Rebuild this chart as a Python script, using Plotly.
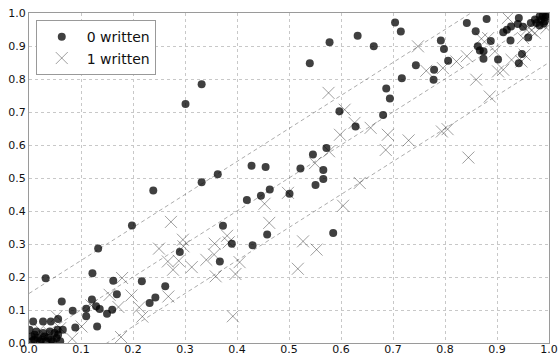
import plotly.graph_objects as go

# ---- data: "0 written" (dots) ----
x0 = [0.301, 0.332,
      0.540, 0.578, 0.632, 0.663, 0.704, 0.715, 0.744, 0.717, 0.687, 0.694, 0.681, 0.597, 0.628, 0.572,
      0.546, 0.522, 0.566, 0.566, 0.551,
      0.792, 0.798, 0.806, 0.779, 0.778, 0.842, 0.880, 0.859, 0.863, 0.867, 0.874, 0.874, 0.888, 0.902,
      0.912, 0.919, 0.927, 0.926, 0.940, 0.942, 0.950, 0.960, 0.948, 0.942, 0.965, 0.973, 0.982, 0.988,
      0.994, 0.982, 0.992, 0.976, 0.995, 0.985, 0.990,
      0.332, 0.363, 0.428, 0.455, 0.501, 0.463, 0.446, 0.419, 0.373, 0.390, 0.430, 0.458, 0.585, 0.367,
      0.290, 0.239, 0.198, 0.133, 0.122, 0.032, 0.262, 0.243, 0.232, 0.217, 0.162, 0.169, 0.160, 0.150,
      0.131, 0.121, 0.129, 0.136, 0.110, 0.110, 0.084, 0.089, 0.063,
      0.008, 0.027, 0.042, 0.056, 0.055, 0.065,
      0.001, 0.005, 0.011, 0.017, 0.024, 0.030, 0.037, 0.043, 0.049, 0.053, 0.005, 0.021, 0.033, 0.046,
      0.014, 0.027, 0.040, 0.056, 0.010, 0.060]
y0 = [0.724, 0.784,
      0.848, 0.911, 0.931, 0.899, 0.971, 0.944, 0.842, 0.802, 0.771, 0.741, 0.691, 0.702, 0.656, 0.591,
      0.571, 0.529, 0.524, 0.497, 0.479,
      0.917, 0.891, 0.855, 0.828, 0.798, 0.970, 0.982, 0.945, 0.899, 0.886, 0.884, 0.861, 0.915, 0.859,
      0.942, 0.949, 0.959, 0.917, 0.967, 0.985, 0.958, 0.926, 0.876, 0.848, 0.970, 0.980, 0.990, 0.992,
      0.988, 0.962, 0.975, 0.970, 0.995, 0.980, 0.968,
      0.487, 0.511, 0.537, 0.533, 0.452, 0.465, 0.446, 0.433, 0.355, 0.301, 0.296, 0.329, 0.333, 0.247,
      0.276, 0.462, 0.356, 0.286, 0.211, 0.196, 0.172, 0.138, 0.121, 0.187, 0.189, 0.148, 0.101, 0.089,
      0.050, 0.132, 0.111, 0.103, 0.104, 0.081, 0.098, 0.047, 0.126,
      0.065, 0.065, 0.065, 0.073, 0.040, 0.040,
      0.040, 0.020, 0.025, 0.015, 0.010, 0.020, 0.015, 0.010, 0.030, 0.015, 0.005, 0.005, 0.005, 0.005,
      0.035, 0.030, 0.035, 0.025, 0.010, 0.005]

# ---- data: "1 written" (crosses) ----
x1 = [0.576, 0.607, 0.626, 0.657, 0.598, 0.690, 0.730, 0.686, 0.577, 0.550, 0.748, 0.764, 0.796, 0.822,
      0.842, 0.860, 0.886, 0.794, 0.805, 0.845, 0.896, 0.902, 0.912, 0.883, 0.870, 0.921, 0.928, 0.947,
      0.953, 0.950, 0.957, 0.966, 0.973, 0.982, 0.995, 0.990,
      0.498, 0.453, 0.462, 0.636, 0.604, 0.527, 0.553, 0.517, 0.392, 0.405, 0.397, 0.359, 0.381, 0.384,
      0.357, 0.356, 0.341, 0.313, 0.288, 0.277, 0.267, 0.297, 0.296, 0.250, 0.273, 0.179, 0.155, 0.197,
      0.172, 0.212, 0.218, 0.268, 0.177, 0.120, 0.101, 0.083, 0.053, 0.021, 0.040, 0.060, 0.030]
y1 = [0.758, 0.707, 0.667, 0.652, 0.631, 0.631, 0.614, 0.585, 0.581, 0.545, 0.899, 0.825, 0.833, 0.853,
      0.869, 0.798, 0.747, 0.641, 0.648, 0.562, 0.884, 0.823, 0.828, 0.924, 0.922, 0.985, 0.858, 0.853,
      0.874, 0.924, 0.949, 0.947, 0.939, 0.970, 0.955, 0.990,
      0.455, 0.422, 0.364, 0.485, 0.416, 0.308, 0.283, 0.225, 0.081, 0.245, 0.209, 0.202, 0.325, 0.305,
      0.301, 0.268, 0.252, 0.230, 0.249, 0.222, 0.247, 0.293, 0.313, 0.286, 0.367, 0.197, 0.146, 0.144,
      0.109, 0.108, 0.080, 0.141, 0.018, 0.114, 0.050, 0.013, 0.081, 0.040, 0.030, 0.045, 0.020]

# ---- reference lines y = x + offset ----
line_offsets = [0.15, 0.0, -0.15]
line_x = [0.0, 1.0]

tick_vals = [0.0, 0.1, 0.2, 0.3, 0.4, 0.5, 0.6, 0.7, 0.8, 0.9, 1.0]
tick_text = ["0.0", "0.1", "0.2", "0.3", "0.4", "0.5", "0.6", "0.7", "0.8", "0.9", "1.0"]

FONT = "DejaVu Sans"

fig = go.Figure()

for off in line_offsets:
    fig.add_trace(go.Scatter(
        x=line_x, y=[v + off for v in line_x], mode="lines",
        line=dict(color="rgba(0,0,0,0.33)", width=1, dash="4px,3px"),
        showlegend=False, hoverinfo="skip"))

fig.add_trace(go.Scatter(
    x=x0, y=y0, mode="markers", name="0 written",
    marker=dict(symbol="circle", size=8, color="rgba(0,0,0,0.75)", line=dict(width=0))))

fig.add_trace(go.Scatter(
    x=x1, y=y1, mode="markers", name="1 written",
    marker=dict(symbol="x-thin-open", size=12, color="rgba(0,0,0,0.38)",
                line=dict(width=1, color="rgba(0,0,0,0.38)"))))

axis_common = dict(
    range=[0, 1], tickvals=tick_vals, ticktext=tick_text,
    showgrid=True, gridcolor="#c8c8c8", gridwidth=1, griddash="dot",
    showline=True, linecolor="#9a9a9a", linewidth=1, mirror=True,
    zeroline=False, ticks="", tickfont=dict(family=FONT, size=11, color="#111"),
    automargin=False,
)

fig.update_layout(
    width=559, height=354,
    margin=dict(l=29, r=10, t=13, b=11, autoexpand=False),
    paper_bgcolor="white", plot_bgcolor="white",
    xaxis=dict(**axis_common, ticklabelstandoff=-4),
    yaxis=dict(**axis_common),
    showlegend=True,
    legend=dict(x=0.013, y=0.978, xanchor="left", yanchor="top",
                bgcolor="white", bordercolor="#999", borderwidth=1,
                font=dict(family=FONT, size=14, color="#111"),
                itemsizing="trace", itemwidth=40, tracegroupgap=0),
    font=dict(family=FONT),
)

fig.write_html("out.html", config={"displayModeBar": False},
               post_script="document.body.style.margin='0px';document.body.style.overflow='hidden';")
